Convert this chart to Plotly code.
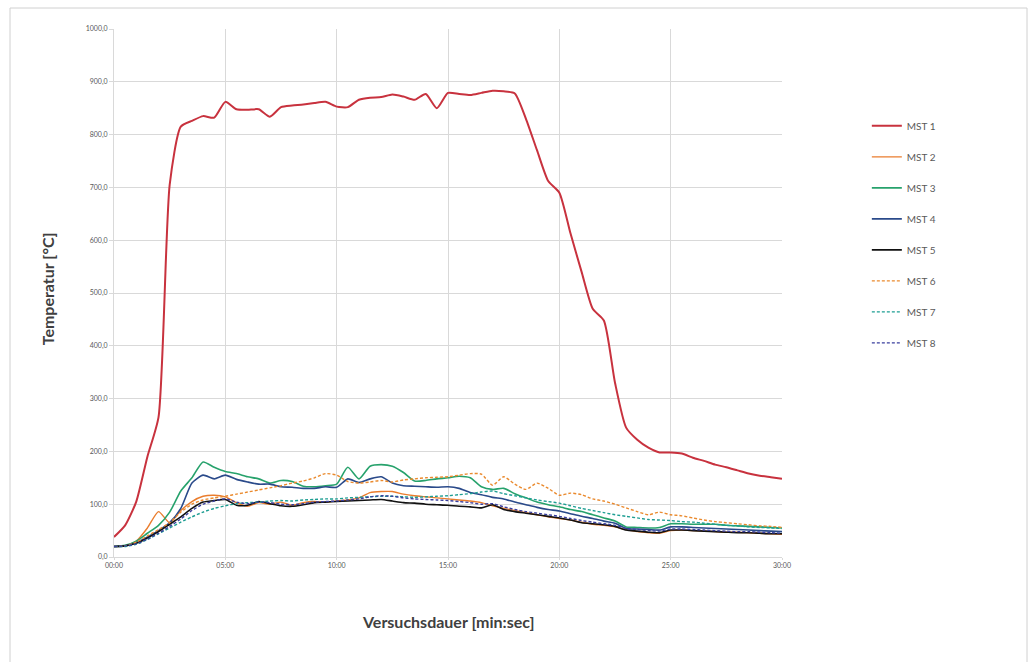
import plotly.graph_objects as go

# Sampling grid: measurements every 30 s from 00:00 to 30:00 (in minutes)
minutes = [i * 0.5 for i in range(61)]

mst1 = [38, 60, 105, 190, 265, 705, 815, 826, 835, 832, 862, 848, 847, 848, 834, 852,
        855, 857, 860, 862, 853, 852, 866, 870, 871, 876, 872, 866, 877, 850, 879, 877,
        875, 879, 883, 882, 878, 830, 770, 712, 690, 613, 540, 470, 448, 330, 245, 222,
        207, 198, 198, 196, 188, 182, 175, 170, 164, 158, 154, 151, 148]
mst2 = [20, 21, 30, 55, 86, 65, 88, 105, 115, 117, 114, 103, 96, 103, 100, 104,
        98, 103, 105, 104, 106, 108, 112, 122, 124, 124, 119, 116, 114, 112, 110, 108,
        106, 103, 97, 92, 88, 84, 80, 76, 73, 70, 66, 62, 60, 57, 52, 48,
        46, 45, 50, 51, 50, 49, 48, 47, 47, 46, 45, 44, 43]
mst3 = [20, 22, 30, 45, 60, 85, 125, 150, 180, 170, 162, 158, 152, 148, 140, 145,
        143, 134, 133, 135, 138, 170, 148, 172, 175, 172, 160, 144, 145, 148, 150, 153,
        150, 133, 128, 130, 120, 112, 104, 99, 95, 90, 86, 80, 74, 68, 57, 56,
        55, 56, 63, 63, 62, 62, 62, 60, 59, 58, 57, 56, 55]
mst4 = [20, 21, 27, 38, 50, 65, 92, 140, 155, 148, 155, 147, 142, 138, 138, 133,
        132, 130, 130, 133, 132, 148, 141, 148, 152, 140, 135, 134, 133, 132, 133, 130,
        122, 118, 113, 110, 104, 99, 94, 90, 87, 82, 77, 73, 68, 64, 54, 53,
        52, 51, 57, 57, 56, 55, 54, 53, 52, 51, 50, 49, 48]
mst5 = [20, 21, 26, 36, 48, 62, 76, 92, 104, 107, 109, 98, 98, 105, 101, 97,
        96, 99, 103, 104, 105, 106, 107, 108, 109, 106, 103, 102, 100, 99, 98, 96,
        95, 93, 99, 90, 86, 83, 80, 77, 74, 70, 65, 63, 61, 58, 51, 49,
        47, 46, 51, 51, 50, 49, 48, 47, 46, 46, 45, 44, 44]
mst6 = [20, 21, 28, 40, 52, 65, 85, 100, 108, 112, 115, 119, 123, 127, 131, 135,
        140, 144, 150, 158, 155, 143, 140, 142, 145, 142, 146, 148, 150, 151, 152, 155,
        158, 157, 136, 152, 138, 128, 140, 130, 117, 121, 118, 110, 106, 100, 93, 86,
        80, 85, 80, 78, 74, 70, 67, 65, 63, 61, 59, 58, 56]
mst7 = [20, 20, 24, 33, 44, 55, 66, 76, 85, 92, 97, 101, 103, 104, 106, 107,
        106, 108, 109, 110, 110, 112, 113, 114, 115, 115, 114, 113, 114, 115, 116, 118,
        120, 123, 125, 120, 116, 112, 108, 105, 102, 97, 92, 88, 84, 80, 77, 74,
        71, 70, 69, 67, 66, 64, 62, 60, 59, 57, 56, 55, 54]
mst8 = [20, 21, 25, 34, 45, 58, 72, 88, 100, 106, 110, 104, 101, 104, 103, 100,
        99, 101, 104, 105, 106, 108, 110, 114, 116, 115, 112, 110, 109, 108, 107, 105,
        103, 100, 101, 95, 90, 86, 83, 80, 77, 73, 69, 66, 63, 60, 54, 52,
        50, 49, 53, 53, 52, 51, 50, 49, 48, 48, 47, 46, 45]

series_names = ["MST 1", "MST 2", "MST 3", "MST 4", "MST 5", "MST 6", "MST 7", "MST 8"]
series_values = [mst1, mst2, mst3, mst4, mst5, mst6, mst7, mst8]

x_tick_values = [0, 5, 10, 15, 20, 25, 30]
x_tick_labels = ["00:00", "05:00", "10:00", "15:00", "20:00", "25:00", "30:00"]
y_tick_values = [0, 100, 200, 300, 400, 500, 600, 700, 800, 900, 1000]
y_tick_labels = ["0,0", "100,0", "200,0", "300,0", "400,0", "500,0",
                 "600,0", "700,0", "800,0", "900,0", "1000,0"]

styles = [
    dict(color="#C8323E", width=2.0, dash="solid"),
    dict(color="#EA7D2E", width=1.4, dash="solid"),
    dict(color="#27A26C", width=1.6, dash="solid"),
    dict(color="#2A4A8A", width=1.6, dash="solid"),
    dict(color="#111111", width=1.6, dash="solid"),
    dict(color="#EA8A2E", width=1.4, dash="3px,2px"),
    dict(color="#1E9E93", width=1.4, dash="3px,2px"),
    dict(color="#3A3F9E", width=1.4, dash="3px,2px"),
]

FONT = "Lato, 'Open Sans', sans-serif"

fig = go.Figure()
for name, vals, st in zip(series_names, series_values, styles):
    fig.add_trace(go.Scatter(
        x=minutes, y=vals, name=name, mode="lines", legendgroup=name,
        line=dict(color=st["color"], width=st["width"], dash=st["dash"],
                  shape="spline", smoothing=0.6),
    ))

fig.update_layout(
    width=1035, height=662,
    margin=dict(l=114, r=253, t=29, b=105),
    paper_bgcolor="white", plot_bgcolor="white",
    font=dict(family=FONT, color="#595959", size=8),
    showlegend=True,
    legend=dict(
        x=1.127, y=0.844, xanchor="left", yanchor="top",
        font=dict(size=10, color="#595959", family=FONT),
        tracegroupgap=12, itemwidth=30, bgcolor="rgba(0,0,0,0)",
    ),
    xaxis=dict(
        range=[0, 30], tickvals=x_tick_values, ticktext=x_tick_labels,
        showgrid=True, gridcolor="#D9D9D9", gridwidth=1,
        showline=True, linecolor="#D9D9D9", linewidth=1, mirror=False,
        ticks="outside", ticklen=2, tickcolor="#D9D9D9",
        tickfont=dict(size=7, color="#595959"), zeroline=False,
    ),
    yaxis=dict(
        range=[0, 1000], tickvals=y_tick_values, ticktext=y_tick_labels,
        showgrid=True, gridcolor="#D9D9D9", gridwidth=1,
        showline=True, linecolor="#D9D9D9", linewidth=1,
        ticks="outside", ticklen=4, tickcolor="#D9D9D9",
        tickfont=dict(size=7, color="#595959"), zeroline=False,
    ),
    annotations=[
        dict(text="<b>Temperatur [°C]</b>", textangle=-90, xref="paper", yref="paper",
             x=-0.1003, y=0.509, xanchor="center", yanchor="middle", showarrow=False,
             font=dict(size=16, color="#404040", family=FONT)),
        dict(text="<b>Versuchsdauer [min:sec]</b>", xref="paper", yref="paper",
             x=0.5, y=-0.123, xanchor="center", yanchor="middle", showarrow=False,
             font=dict(size=16, color="#404040", family=FONT)),
    ],
    shapes=[
        # outer chart frame
        dict(type="rect", xref="paper", yref="paper",
             x0=(10 - 114) / 668, x1=(1027 - 114) / 668,
             y0=(557 - 700) / 528, y1=(557 - 8) / 528,
             line=dict(color="#D0D0D0", width=1), fillcolor="rgba(0,0,0,0)", layer="below"),
    ],
)

fig.write_html("out.html")
